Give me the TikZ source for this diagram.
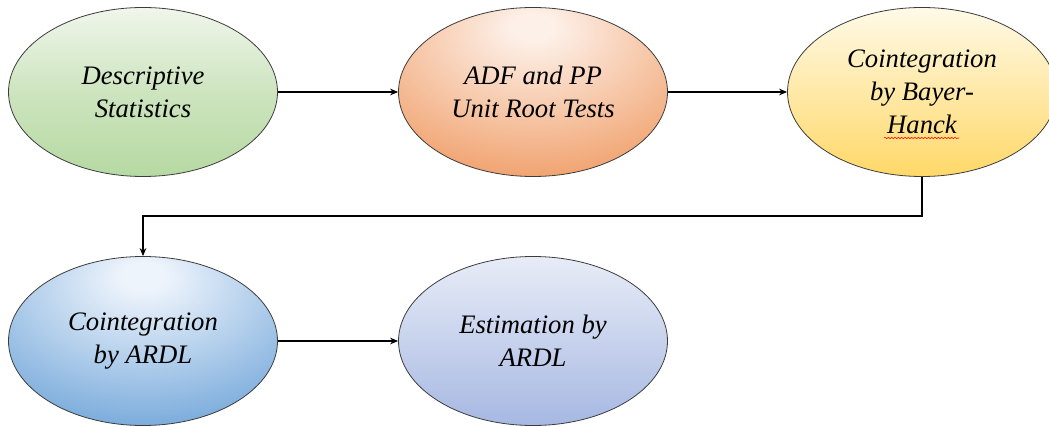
\documentclass[tikz,border=0pt]{standalone}
\usepackage{fontspec}
\newfontfamily\tnr{Liberation Serif}
\usetikzlibrary{shapes.geometric,arrows.meta,decorations.pathmorphing}
\definecolor{greenTop}{RGB}{240,246,235}
\definecolor{greenBot}{RGB}{182,217,162}
\definecolor{orangeIn}{RGB}{253,240,232}
\definecolor{orangeOut}{RGB}{237,140,76}
\definecolor{yellowTop}{RGB}{255,250,232}
\definecolor{yellowBot}{RGB}{255,216,104}
\definecolor{blueIn}{RGB}{238,244,252}
\definecolor{blueOut}{RGB}{88,150,210}
\definecolor{lavTop}{RGB}{232,236,247}
\definecolor{lavBot}{RGB}{166,184,226}
\definecolor{edge}{RGB}{60,60,60}
\pgfdeclareradialshading{orangeglow}{\pgfpoint{0bp}{20bp}}{color(0bp)=(orangeIn); color(4bp)=(orangeIn); color(48bp)=(orangeOut); color(100bp)=(orangeOut)}
\pgfdeclareradialshading{blueglow}{\pgfpoint{0bp}{20bp}}{color(0bp)=(blueIn); color(4bp)=(blueIn); color(48bp)=(blueOut); color(100bp)=(blueOut)}
\tikzset{
  oval/.style={ellipse, draw=edge, line width=0.6pt, inner sep=0pt,
    minimum width=201.75pt, minimum height=126.75pt, align=center,
    font=\tnr\itshape\fontsize{20}{24.75}\selectfont},
  arr/.style={draw=black, line width=0.8pt, -{Stealth[length=6pt,width=5pt]}}
}
\begin{document}
\begin{tikzpicture}[x=0.75pt,y=-0.75pt]
\useasboundingbox (0,0) rectangle (1049,427);
\node[oval, top color=greenTop, bottom color=greenBot, middle color=greenBot!60!greenTop] (n1) at (143,92) {Descriptive\\Statistics};
\node[oval, shading=orangeglow] (n2) at (533,92) {ADF and PP\\Unit Root Tests};
\node[oval, top color=yellowTop, bottom color=yellowBot] (n3) at (922,92) {Cointegration\\by Bayer-\\Hanck};
\node[oval, shading=blueglow] (n4) at (143,341) {Cointegration\\by ARDL};
\node[oval, top color=lavTop, bottom color=lavBot] (n5) at (533,341) {Estimation by\\ARDL};
\draw[arr] (n1.east) -- (n2.west);
\draw[arr] (n2.east) -- (n3.west);
\draw[arr] (n3.south) -- (n3.south |- 0,216) -| (n4.north);
\draw[arr] (n4.east) -- (n5.west);
\draw[red, line width=0.4pt, decorate, decoration={snake, amplitude=0.5pt, segment length=2.5pt}] (884,138) -- (959,138);
\end{tikzpicture}
\end{document}
